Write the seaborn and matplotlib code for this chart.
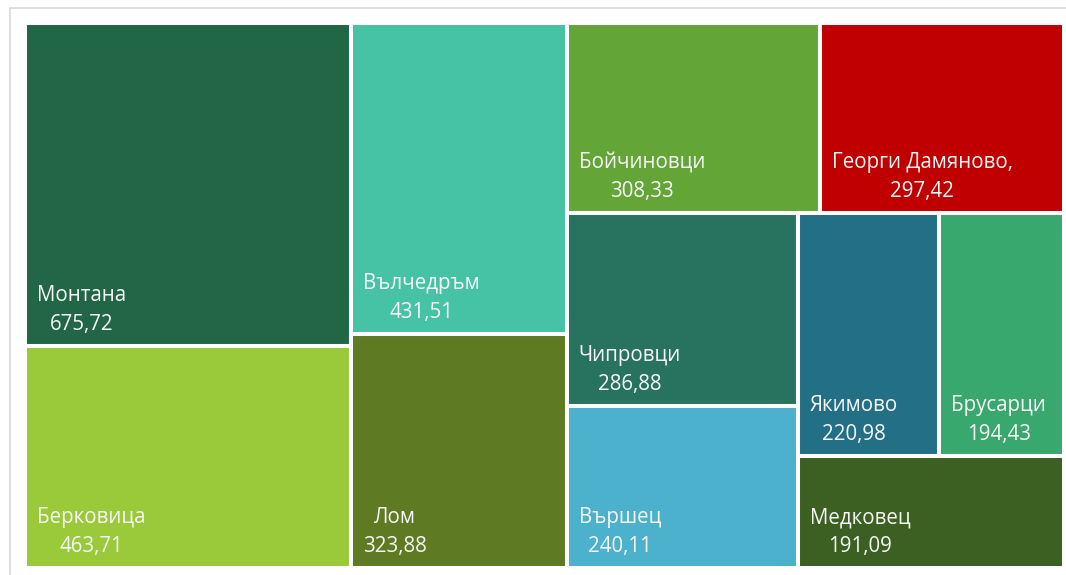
import matplotlib
matplotlib.use("Agg")
import matplotlib.pyplot as plt
import seaborn as sns
from matplotlib.patches import Rectangle

# ---- data ----
names = ["Монтана", "Берковица", "Вълчедръм", "Лом", "Бойчиновци",
         "Георги Дамяново,", "Чипровци", "Вършец", "Якимово", "Брусарци", "Медковец"]
values = [675.72, 463.71, 431.51, 323.88, 308.33, 297.42, 286.88, 240.11, 220.98, 194.43, 191.09]
value_labels = ["675,72", "463,71", "431,51", "323,88", "308,33", "297,42",
                "286,88", "240,11", "220,98", "194,43", "191,09"]
colors = ["#216645", "#9ACA3A", "#46C2A5", "#5E7A22", "#64A537", "#C00000",
          "#27735F", "#4BB1CD", "#236F86", "#38A86E", "#3B6022"]

sns.set_theme(style="white")
plt.rcParams["font.family"] = ["Open Sans", "DejaVu Sans"]

W, H = 1039.0, 545.0  # layout area (pixel aspect)


def worst(row, short):
    s = sum(row)
    t = s / short
    return max(max(t / (a / t), (a / t) / t) for a in row)


def squarify(areas, x, y, w, h):
    rects = []
    areas = list(areas)
    while areas:
        short = min(w, h)
        row = [areas.pop(0)]
        while areas and worst(row + [areas[0]], short) <= worst(row, short):
            row.append(areas.pop(0))
        s = sum(row)
        if w >= h:
            t = s / h
            yy = y
            for a in row:
                rects.append((x, yy, t, a / t))
                yy += a / t
            x += t
            w -= t
        else:
            t = s / w
            xx = x
            for a in row:
                rects.append((xx, y, a / t, t))
                xx += a / t
            y += t
            h -= t
    return rects


total = sum(values)
areas = [v / total * W * H for v in values]
rects = squarify(areas, 0, 0, W, H)

fig = plt.figure(figsize=(10.66, 5.75), dpi=100)
ax = fig.add_axes([25 / 1066, 7 / 575, 1039 / 1066, 545 / 575])
ax.set_xlim(0, W)
ax.set_ylim(H, 0)
ax.axis("off")

palette = sns.color_palette(colors)
for (x, y, w, h), col, nm, vl in zip(rects, palette, names, value_labels):
    ax.add_patch(Rectangle((x, y), w, h, facecolor=col, edgecolor="white",
                           linewidth=2.9, clip_on=False))
    ax.annotate(nm + "\n" + vl, xy=(x, y + h), xytext=(12, 16),
                textcoords="offset pixels", ha="left", va="baseline",
                multialignment="center", color="#F7F7F7", fontsize=14.8,
                linespacing=1.5)

# outer light frame
fig.patches.append(Rectangle((10 / 1066, -0.2), 1.5, (575 - 8) / 575 + 0.2,
                             transform=fig.transFigure, fill=False,
                             edgecolor="#d9d9d9", linewidth=1.2))

fig.savefig("out.png", dpi=100)
